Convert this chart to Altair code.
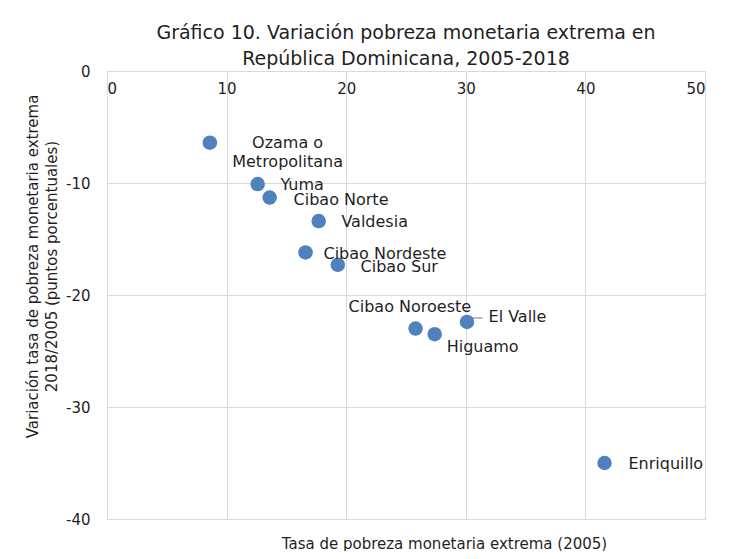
import altair as alt
import pandas as pd

regions = ["Ozama o\nMetropolitana", "Yuma", "Cibao Norte", "Valdesia", "Cibao Nordeste",
           "Cibao Sur", "Cibao Noroeste", "Higuamo", "El Valle", "Enriquillo"]
pobreza_2005 = [8.6, 12.6, 13.6, 17.7, 16.6, 19.3, 25.8, 27.4, 30.1, 41.6]
variacion = [-6.4, -10.1, -11.3, -13.4, -16.2, -17.3, -23.0, -23.5, -22.4, -35.0]

# label anchor positions (data units)
label_x = [15.1, 14.5, 15.6, 19.6, 18.1, 21.2, 20.2, 28.4, 31.9, 43.6]
label_y = [-6.4, -10.2, -11.5, -13.5, -16.3, -17.5, -21.1, -24.6, -22.0, -35.1]
label_align = ["center", "left", "left", "left", "left", "left", "left", "left", "left", "left"]

leader_x = [30.4]
leader_x2 = [31.4]
leader_y = [-22.05]

x_ticks = [0, 10, 20, 30, 40, 50]
y_ticks = [0, -10, -20, -30, -40]

FONT = "DejaVu Sans"
TXT = "#1f1f1f"

df = pd.DataFrame({"region": regions, "x": pobreza_2005, "y": variacion})
lab = pd.DataFrame({"region": regions, "lx": label_x, "ly": label_y, "align": label_align})
lead = pd.DataFrame({"x": leader_x, "x2": leader_x2, "y": leader_y})

xscale = alt.Scale(domain=[0, 50], nice=False)
yscale = alt.Scale(domain=[-40, 0], nice=False)

xaxis = alt.Axis(orient="top", values=x_ticks, tickSize=0, domain=False,
                 labelPadding=-10, labelBaseline="top", labelFontSize=15,
                 labelFont=FONT, labelColor=TXT, grid=True, gridColor="#d9d9d9",
                 title="Tasa de pobreza monetaria extrema (2005)", titleFont=FONT,
                 titleFontSize=15, titleFontWeight="normal", titleColor=TXT,
                 titleX=337, titleY=477, titleBaseline="alphabetic", titleAlign="center")
yaxis = alt.Axis(orient="left", values=y_ticks, tickSize=0, domain=False,
                 labelExpr="'' + datum.value",
                 labelPadding=17, labelFontSize=15, labelFont=FONT, labelColor=TXT,
                 grid=True, gridColor="#d9d9d9",
                 title=["Variación tasa de pobreza monetaria extrema",
                        "2018/2005 (puntos porcentuales)"],
                 titleFont=FONT, titleFontSize=15, titleFontWeight="normal",
                 titleColor=TXT, titlePadding=6, titleY=195, titleLineHeight=19)

points = alt.Chart(df).mark_circle(size=210, color="#4f81bd", opacity=1).encode(
    x=alt.X("x:Q", scale=xscale, axis=xaxis),
    y=alt.Y("y:Q", scale=yscale, axis=yaxis),
)

leader = alt.Chart(lead).mark_rule(color="#a6a6a6", strokeWidth=1.5).encode(
    x="x:Q", x2="x2:Q", y="y:Q")

labels_left = alt.Chart(lab).transform_filter(alt.datum.align == "left").mark_text(
    align="left", baseline="middle", font=FONT, fontSize=16, color=TXT, lineBreak="\n",
    lineHeight=19).encode(x="lx:Q", y="ly:Q", text="region:N")
labels_center = alt.Chart(lab).transform_filter(alt.datum.align == "center").mark_text(
    align="center", baseline="middle", font=FONT, fontSize=16, color=TXT, lineBreak="\n",
    lineHeight=19).encode(x="lx:Q", y="ly:Q", text="region:N")

chart = alt.layer(leader, points, labels_left, labels_center).properties(
    width=598, height=448,
    autosize=alt.AutoSizeParams(type="none"),
    padding={"left": 99, "top": 63, "right": 34, "bottom": 32},
    title=alt.TitleParams(
        ["Gráfico 10. Variación pobreza monetaria extrema en", "República Dominicana, 2005-2018"],
        font=FONT, fontSize=19, fontWeight="normal", color=TXT, anchor="middle",
        lineHeight=26, offset=-5),
).configure_view(stroke="#d9d9d9", strokeWidth=1).configure(background="white")

chart.save("out.html", embed_options={"renderer": "svg", "actions": False})
